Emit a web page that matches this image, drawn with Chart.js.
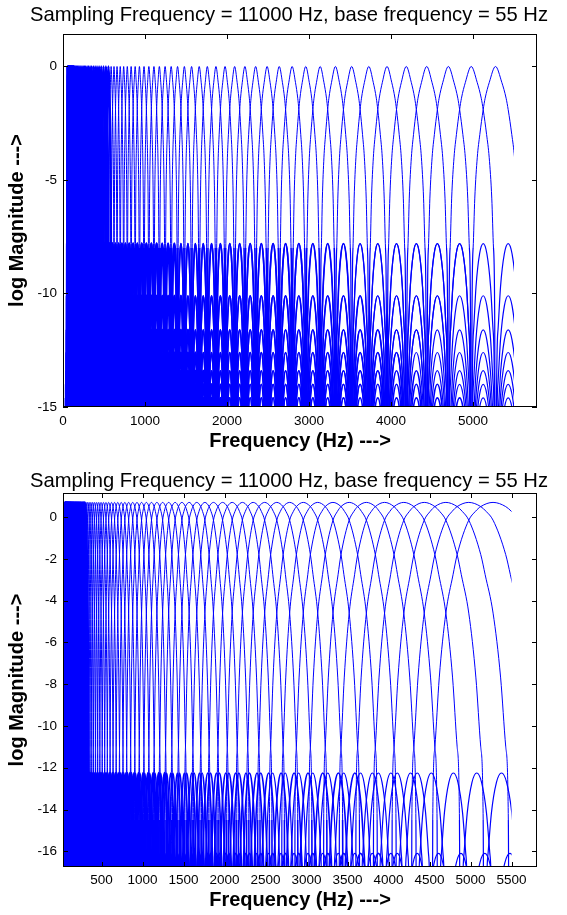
<!DOCTYPE html>
<html>
<head>
<meta charset="utf-8">
<title>Filter bank log magnitude</title>
<script src="https://cdn.jsdelivr.net/npm/chart.js@4.4.0/dist/chart.umd.min.js"></script>
<style>
  html, body { margin: 0; padding: 0; background: #fff; }
  #wrap { position: relative; width: 567px; height: 915px; }
  canvas { position: absolute; left: 0; }
  #top-chart { top: 0; }
  #bottom-chart { top: 458px; }
</style>
</head>
<body>
<div id="wrap">
  <canvas id="top-chart" width="567" height="458"></canvas>
  <canvas id="bottom-chart" width="567" height="457"></canvas>
</div>
<script>
const plotTitle = 'Sampling Frequency = 11000 Hz, base frequency = 55 Hz';
const xTitle = 'Frequency (Hz) --->';
const yTitle = 'log Magnitude --->';
const nyquist = 5500;

// Filter centre frequencies (Hz), one per semitone above the 55 Hz base
const centerFreqs = [
  55, 58, 62, 65, 69, 73, 78, 82, 87, 93, 98, 104,
  110, 117, 123, 131, 139, 147, 156, 165, 175, 185, 196, 208,
  220, 233, 247, 262, 277, 294, 311, 330, 349, 370, 392, 415,
  440, 466, 494, 523, 554, 587, 622, 659, 698, 740, 784, 831,
  880, 932, 988, 1047, 1109, 1175, 1245, 1319, 1397, 1480, 1568, 1661,
  1760, 1865, 1976, 2093, 2218, 2349, 2489, 2637, 2794, 2960, 3136, 3322,
  3520, 3729, 3951, 4186, 4435, 4699, 4978, 5274,
];

// Top plot: main lobe, [semitones from centre, log magnitude]
const topMainLobe = [
  [0, 0], [0.25, -0.7], [0.42, -1.4], [0.5, -1.9], [0.64, -3.0],
  [0.745, -4.0], [0.85, -5.8], [0.92, -8.0], [0.97, -11.5],
];
const topNulls = [1, 2, 3, 4, 5, 6, 7, 8, 9];
const topSideLobePeaks = [-7.8, -10.1, -11.6, -12.6, -13.4, -14.0, -14.6, -15.1];

// Bottom plot: wider main lobe, lower side lobes
const bottomMainLobe = [
  [0, 0.7], [0.5, 0.5], [0.72, 0.27], [1.0, -0.15], [1.5, -1.8], [1.68, -2.76],
  [2.0, -4.6], [2.3, -7.7], [2.5, -11], [2.6, -14.5],
];
const bottomNulls = [2.67, 4.0, 5.33];
const bottomSideLobePeaks = [-12.25, -16.1];

// Side lobe profile: [position across the lobe (fraction of half width), drop below its peak]
const sideLobeShape = [
  [-0.92, -7], [-0.8, -3.8], [-0.6, -1.9], [-0.3, -0.45], [0, 0],
  [0.3, -0.45], [0.6, -1.9], [0.8, -3.8], [0.92, -7],
];
const nullLevel = -40;

// Tick labels
const topXTicks = [0, 1000, 2000, 3000, 4000, 5000];
const topYTicks = [-15, -10, -5, 0];
const bottomXTicks = [500, 1000, 1500, 2000, 2500, 3000, 3500, 4000, 4500, 5000, 5500];
const bottomYTicks = [-16, -14, -12, -10, -8, -6, -4, -2, 0];

Chart.defaults.font.family = '"Liberation Sans", Arial, sans-serif';
Chart.defaults.color = '#000';

// One side of a filter response: main lobe, then the side lobes between the nulls
function halfResponse(main, nulls, peaks) {
  const pts = main.slice();
  pts.push([nulls[0], nullLevel]);
  peaks.forEach((peak, j) => {
    const a = nulls[j];
    const b = nulls[j + 1];
    const c = (a + b) / 2;
    const h = (b - a) / 2;
    sideLobeShape.forEach(([r, drop]) => pts.push([c + r * h, peak + drop]));
    pts.push([b, nullLevel]);
  });
  return pts;
}

function fullResponse(half) {
  const left = half.slice(1).reverse().map(([s, v]) => [-s, v]);
  return left.concat(half);
}

// Low filters are packed tighter than a pixel, so their strokes are drawn heavier
// to give the solid mass of the original plot
function filterDatasets(profile, dense) {
  return centerFreqs.map((fc) => ({
    data: profile.map(([s, v]) => ({ x: fc * Math.pow(2, s / 12), y: v })),
    borderColor: '#0000ff',
    borderWidth: 1,
    pointRadius: 0,
    fill: false,
    cubicInterpolationMode: 'monotone',
    segment: {
      borderWidth: (ctx) => {
        if (fc < dense.solidFc) return 2.5;
        const y = Math.max(ctx.p0.parsed.y, ctx.p1.parsed.y);
        if (y < dense.sideY) {
          if (fc < dense.thickFc) return 2.5;
          if (fc < dense.midFc) return 1.6;
          return 1.2;
        }
        return 1;
      },
    },
  }));
}

// Cut every curve at the Nyquist frequency
const nyquistClip = {
  id: 'nyquistClip',
  beforeDatasetsDraw(c) {
    const { ctx, chartArea: a, scales: { x } } = c;
    ctx.save();
    ctx.beginPath();
    ctx.rect(a.left, a.top - 2, x.getPixelForValue(nyquist) - a.left, a.bottom - a.top + 4);
    ctx.clip();
  },
  afterDatasetsDraw(c) {
    c.ctx.restore();
  },
};

// MATLAB style box with inward ticks on all four sides
const frame = {
  id: 'frame',
  afterDraw(c) {
    const { ctx, chartArea: a, scales: { x, y } } = c;
    const len = 5;
    ctx.save();
    ctx.strokeStyle = '#000';
    ctx.lineWidth = 1;
    ctx.strokeRect(a.left + 0.5, a.top + 0.5, a.right - a.left - 1, a.bottom - a.top - 1);
    ctx.beginPath();
    x.ticks.forEach((t) => {
      const px = Math.round(x.getPixelForValue(t.value)) + 0.5;
      ctx.moveTo(px, a.bottom);
      ctx.lineTo(px, a.bottom - len);
      ctx.moveTo(px, a.top);
      ctx.lineTo(px, a.top + len);
    });
    y.ticks.forEach((t) => {
      const py = Math.round(y.getPixelForValue(t.value)) + 0.5;
      ctx.moveTo(a.left, py);
      ctx.lineTo(a.left + len, py);
      ctx.moveTo(a.right, py);
      ctx.lineTo(a.right - len, py);
    });
    ctx.stroke();
    ctx.restore();
  },
};

function makeChart(id, opts) {
  return new Chart(document.getElementById(id), {
    type: 'line',
    data: { datasets: opts.datasets },
    options: {
      responsive: false,
      animation: false,
      events: [],
      // left padding shifts the full-width title box so the title centres where the original does
      layout: { padding: { left: 11, right: 0, top: 0, bottom: 0 } },
      scales: {
        x: {
          type: 'linear',
          min: opts.xMin,
          max: opts.xMax,
          grid: { display: false, drawTicks: false },
          border: { display: false },
          afterBuildTicks: (s) => { s.ticks = opts.xTicks.map((v) => ({ value: v })); },
          afterFit: (s) => { s.height = opts.xHeight; },
          ticks: {
            font: { size: 13.5 },
            padding: opts.xTickPad,
            maxRotation: 0,
            autoSkip: false,
            callback: (v) => String(v),
          },
          title: {
            display: true,
            text: xTitle,
            font: { size: 20, weight: 'bold' },
            padding: { top: 0, bottom: opts.xTitlePad },
          },
        },
        y: {
          type: 'linear',
          min: opts.yMin,
          max: opts.yMax,
          grid: { display: false, drawTicks: false },
          border: { display: false },
          afterBuildTicks: (s) => { s.ticks = opts.yTicks.map((v) => ({ value: v })); },
          afterFit: (s) => { s.width = 52; },
          ticks: {
            font: { size: 13.5 },
            padding: 6,
            callback: (v) => String(v),
          },
          title: {
            display: true,
            text: yTitle,
            font: { size: 20, weight: 'bold' },
            padding: { top: -6, bottom: 0 },
          },
        },
        // empty right-hand strip, keeps the plot box off the right edge
        yRight: {
          type: 'linear',
          position: 'right',
          min: 0,
          max: 1,
          grid: { display: false, drawTicks: false },
          border: { display: false },
          ticks: { display: false },
          afterFit: (s) => { s.width = 30; },
        },
      },
      plugins: {
        legend: { display: false },
        tooltip: { enabled: false },
        title: {
          display: true,
          text: plotTitle,
          font: { size: 20.2, weight: 'normal', lineHeight: 1 },
          padding: opts.titlePad,
        },
      },
    },
    plugins: [nyquistClip, frame],
  });
}

makeChart('top-chart', {
  datasets: filterDatasets(
    fullResponse(halfResponse(topMainLobe, topNulls, topSideLobePeaks)),
    { solidFc: 560, sideY: -7.6, thickFc: 1300, midFc: 3200 },
  ),
  xMin: 0,
  xMax: 5780,
  yMin: -15,
  yMax: 1.43,
  xTicks: topXTicks,
  yTicks: topYTicks,
  xHeight: 51,
  xTickPad: 6,
  xTitlePad: 5,
  titlePad: { top: 5, bottom: 8.8 },
});

makeChart('bottom-chart', {
  datasets: filterDatasets(
    fullResponse(halfResponse(bottomMainLobe, bottomNulls, bottomSideLobePeaks)),
    { solidFc: 300, sideY: -12, thickFc: 1100, midFc: 3000 },
  ),
  xMin: 30,
  xMax: 5810,
  yMin: -16.75,
  yMax: 1.15,
  xTicks: bottomXTicks,
  yTicks: bottomYTicks,
  xHeight: 48,
  xTickPad: 5,
  xTitlePad: 3,
  titlePad: { top: 13, bottom: 1.8 },
});
</script>
</body>
</html>
